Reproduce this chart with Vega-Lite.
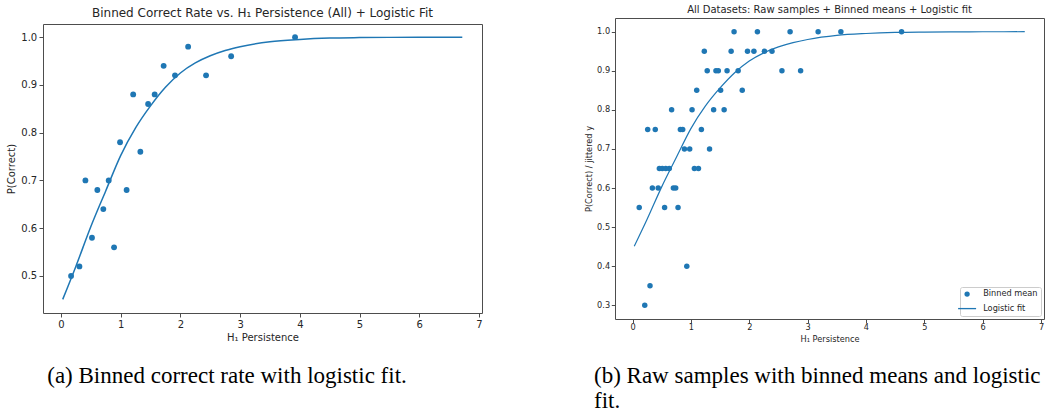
{
  "$schema": "https://vega.github.io/schema/vega-lite/v6.json",
  "background": "white",
  "padding": {"left": 6, "top": 4, "right": 0, "bottom": 0},
  "config": {
    "font": "DejaVu Sans",
    "view": {"stroke": "#4d4d4d", "strokeWidth": 1},
    "axis": {"grid": false, "domain": false, "minExtent": 0, "tickColor": "#4d4d4d", "labelColor": "#262626", "titleColor": "#262626", "titleFontWeight": "normal", "labelFont": "DejaVu Sans", "titleFont": "DejaVu Sans"},
    "title": {"font": "DejaVu Sans", "fontWeight": "normal", "color": "#262626"}
  },
  "datasets": {
    "binnedA": [
      {"persistence": 0.17, "p_correct": 0.50},
      {"persistence": 0.31, "p_correct": 0.52},
      {"persistence": 0.41, "p_correct": 0.70},
      {"persistence": 0.52, "p_correct": 0.58},
      {"persistence": 0.61, "p_correct": 0.68},
      {"persistence": 0.71, "p_correct": 0.64},
      {"persistence": 0.80, "p_correct": 0.70},
      {"persistence": 0.89, "p_correct": 0.56},
      {"persistence": 0.99, "p_correct": 0.78},
      {"persistence": 1.10, "p_correct": 0.68},
      {"persistence": 1.21, "p_correct": 0.88},
      {"persistence": 1.33, "p_correct": 0.76},
      {"persistence": 1.46, "p_correct": 0.86},
      {"persistence": 1.57, "p_correct": 0.88},
      {"persistence": 1.72, "p_correct": 0.94},
      {"persistence": 1.91, "p_correct": 0.92},
      {"persistence": 2.13, "p_correct": 0.98},
      {"persistence": 2.43, "p_correct": 0.92},
      {"persistence": 2.85, "p_correct": 0.96},
      {"persistence": 3.92, "p_correct": 1.00}
    ],
    "samplesB": [
      {"persistence": 1.74, "p_correct": 1.00, "series": "Binned mean"},
      {"persistence": 2.14, "p_correct": 1.00, "series": "Binned mean"},
      {"persistence": 2.70, "p_correct": 1.00, "series": "Binned mean"},
      {"persistence": 3.18, "p_correct": 1.00, "series": "Binned mean"},
      {"persistence": 3.57, "p_correct": 1.00, "series": "Binned mean"},
      {"persistence": 4.61, "p_correct": 1.00, "series": "Binned mean"},
      {"persistence": 1.23, "p_correct": 0.95, "series": "Binned mean"},
      {"persistence": 1.69, "p_correct": 0.95, "series": "Binned mean"},
      {"persistence": 1.97, "p_correct": 0.95, "series": "Binned mean"},
      {"persistence": 2.08, "p_correct": 0.95, "series": "Binned mean"},
      {"persistence": 2.26, "p_correct": 0.95, "series": "Binned mean"},
      {"persistence": 2.39, "p_correct": 0.95, "series": "Binned mean"},
      {"persistence": 1.28, "p_correct": 0.90, "series": "Binned mean"},
      {"persistence": 1.43, "p_correct": 0.90, "series": "Binned mean"},
      {"persistence": 1.47, "p_correct": 0.90, "series": "Binned mean"},
      {"persistence": 1.62, "p_correct": 0.90, "series": "Binned mean"},
      {"persistence": 1.81, "p_correct": 0.90, "series": "Binned mean"},
      {"persistence": 2.56, "p_correct": 0.90, "series": "Binned mean"},
      {"persistence": 2.88, "p_correct": 0.90, "series": "Binned mean"},
      {"persistence": 1.10, "p_correct": 0.85, "series": "Binned mean"},
      {"persistence": 1.51, "p_correct": 0.85, "series": "Binned mean"},
      {"persistence": 1.88, "p_correct": 0.85, "series": "Binned mean"},
      {"persistence": 0.67, "p_correct": 0.80, "series": "Binned mean"},
      {"persistence": 1.02, "p_correct": 0.80, "series": "Binned mean"},
      {"persistence": 1.39, "p_correct": 0.80, "series": "Binned mean"},
      {"persistence": 1.57, "p_correct": 0.80, "series": "Binned mean"},
      {"persistence": 0.26, "p_correct": 0.75, "series": "Binned mean"},
      {"persistence": 0.39, "p_correct": 0.75, "series": "Binned mean"},
      {"persistence": 0.82, "p_correct": 0.75, "series": "Binned mean"},
      {"persistence": 0.86, "p_correct": 0.75, "series": "Binned mean"},
      {"persistence": 1.18, "p_correct": 0.75, "series": "Binned mean"},
      {"persistence": 0.89, "p_correct": 0.70, "series": "Binned mean"},
      {"persistence": 0.98, "p_correct": 0.70, "series": "Binned mean"},
      {"persistence": 1.32, "p_correct": 0.70, "series": "Binned mean"},
      {"persistence": 0.46, "p_correct": 0.65, "series": "Binned mean"},
      {"persistence": 0.51, "p_correct": 0.65, "series": "Binned mean"},
      {"persistence": 0.57, "p_correct": 0.65, "series": "Binned mean"},
      {"persistence": 0.63, "p_correct": 0.65, "series": "Binned mean"},
      {"persistence": 1.06, "p_correct": 0.65, "series": "Binned mean"},
      {"persistence": 1.13, "p_correct": 0.65, "series": "Binned mean"},
      {"persistence": 0.34, "p_correct": 0.60, "series": "Binned mean"},
      {"persistence": 0.44, "p_correct": 0.60, "series": "Binned mean"},
      {"persistence": 0.70, "p_correct": 0.60, "series": "Binned mean"},
      {"persistence": 0.74, "p_correct": 0.60, "series": "Binned mean"},
      {"persistence": 0.115, "p_correct": 0.55, "series": "Binned mean"},
      {"persistence": 0.55, "p_correct": 0.55, "series": "Binned mean"},
      {"persistence": 0.78, "p_correct": 0.55, "series": "Binned mean"},
      {"persistence": 0.93, "p_correct": 0.40, "series": "Binned mean"},
      {"persistence": 0.30, "p_correct": 0.35, "series": "Binned mean"},
      {"persistence": 0.21, "p_correct": 0.30, "series": "Binned mean"}
    ],
    "fit": [
      {"persistence": 0.03, "p_fit": 0.451},
      {"persistence": 0.25, "p_fit": 0.52},
      {"persistence": 0.5, "p_fit": 0.603},
      {"persistence": 0.75, "p_fit": 0.678},
      {"persistence": 1.0, "p_fit": 0.752},
      {"persistence": 1.25, "p_fit": 0.81},
      {"persistence": 1.5, "p_fit": 0.856},
      {"persistence": 1.75, "p_fit": 0.895},
      {"persistence": 2.0, "p_fit": 0.925},
      {"persistence": 2.25, "p_fit": 0.946},
      {"persistence": 2.5, "p_fit": 0.961},
      {"persistence": 2.75, "p_fit": 0.972},
      {"persistence": 3.0, "p_fit": 0.98},
      {"persistence": 3.5, "p_fit": 0.9905},
      {"persistence": 4.0, "p_fit": 0.9953},
      {"persistence": 4.5, "p_fit": 0.998},
      {"persistence": 5.0, "p_fit": 0.999},
      {"persistence": 5.5, "p_fit": 0.9995},
      {"persistence": 6.0, "p_fit": 0.9998},
      {"persistence": 6.72, "p_fit": 0.9999}
    ]
  },
  "vconcat": [
    {
      "hconcat": [
        {
          "width": 439,
          "height": 289,
          "title": {"text": "Binned Correct Rate vs. H₁ Persistence (All) + Logistic Fit", "fontSize": 12, "offset": 4},
          "layer": [
            {
              "data": {"name": "binnedA"},
              "mark": {"type": "point", "filled": true, "size": 34, "opacity": 1, "color": "#1f77b4"},
              "encoding": {
                "x": {"field": "persistence", "type": "quantitative", "scale": {"domain": [-0.3, 7.05], "nice": false, "zero": false},
                      "axis": {"title": "H₁ Persistence", "values": [0, 1, 2, 3, 4, 5, 6, 7], "format": "d", "labelFontSize": 10, "titleFontSize": 10, "tickSize": 4, "labelPadding": 2.3, "titlePadding": 2.7}},
                "y": {"field": "p_correct", "type": "quantitative", "scale": {"domain": [0.4225, 1.0275], "nice": false, "zero": false},
                      "axis": {"title": "P(Correct)", "values": [0.5, 0.6, 0.7, 0.8, 0.9, 1.0], "format": ".1f", "labelFontSize": 10, "titleFontSize": 10, "tickSize": 4, "labelPadding": 2.3, "titlePadding": 4}}
              }
            },
            {
              "data": {"name": "fit"},
              "mark": {"type": "line", "color": "#1f77b4", "strokeWidth": 1.5, "interpolate": "monotone"},
              "encoding": {
                "x": {"field": "persistence", "type": "quantitative"},
                "y": {"field": "p_fit", "type": "quantitative"}
              }
            }
          ]
        },
        {
          "width": 429,
          "height": 301,
          "title": {"text": "All Datasets: Raw samples + Binned means + Logistic fit", "fontSize": 10, "offset": 3},
          "layer": [
            {
              "data": {"name": "samplesB"},
              "mark": {"type": "point", "filled": true, "size": 30, "opacity": 1, "color": "#1f77b4"},
              "encoding": {
                "x": {"field": "persistence", "type": "quantitative", "scale": {"domain": [-0.3, 7.05], "nice": false, "zero": false},
                      "axis": {"title": "H₁ Persistence", "values": [0, 1, 2, 3, 4, 5, 6, 7], "format": "d", "labelFontSize": 8.2, "titleFontSize": 8.2, "tickSize": 3.5, "labelPadding": 1.4, "titlePadding": 4}},
                "y": {"field": "p_correct", "type": "quantitative", "scale": {"domain": [0.265, 1.035], "nice": false, "zero": false},
                      "axis": {"title": "P(Correct) / jittered y", "values": [0.3, 0.4, 0.5, 0.6, 0.7, 0.8, 0.9, 1.0], "format": ".1f", "labelFontSize": 8.2, "titleFontSize": 8.2, "tickSize": 3.7, "labelPadding": 1.7, "titlePadding": 3}},
                "shape": {"field": "series", "type": "nominal",
                          "scale": {"domain": ["Binned mean", "Logistic fit"], "range": ["circle", "M-3.4,-0.25H3.4V0.25H-3.4Z"]},
                          "legend": {"title": null, "orient": "bottom-right", "offset": 3, "padding": 3, "labelFontSize": 8.2, "labelFont": "DejaVu Sans", "labelColor": "#262626", "symbolSize": 28, "symbolFillColor": "#1f77b4", "labelOffset": 12, "rowPadding": 3.5, "fillColor": "white", "strokeColor": "#cccccc", "cornerRadius": 2}}
              }
            },
            {
              "data": {"name": "fit"},
              "mark": {"type": "line", "color": "#1f77b4", "strokeWidth": 1.2, "interpolate": "monotone"},
              "encoding": {
                "x": {"field": "persistence", "type": "quantitative"},
                "y": {"field": "p_fit", "type": "quantitative"}
              }
            }
          ]
        }
      ],
      "resolve": {"scale": {"shape": "independent"}, "legend": {"shape": "independent"}},
      "bounds": "flush",
      "center": true,
      "spacing": 133
    },
    {
      "hconcat": [
        {
          "width": 368,
          "height": 1,
          "view": {"stroke": null},
          "data": {"values": [{}]},
          "mark": {"type": "text"},
          "encoding": {"text": {"value": ""}},
          "title": {"text": "(a) Binned correct rate with logistic fit.", "orient": "bottom", "font": "Liberation Serif", "fontSize": 23, "anchor": "middle", "color": "black", "offset": 0}
        },
        {
          "width": 457,
          "height": 1,
          "view": {"stroke": null},
          "data": {"values": [{}]},
          "mark": {"type": "text"},
          "encoding": {"text": {"value": ""}},
          "title": {"text": ["(b) Raw samples with binned means and logistic", "fit."], "orient": "bottom", "font": "Liberation Serif", "fontSize": 23, "lineHeight": 25, "anchor": "start", "color": "black", "offset": 0}
        }
      ],
      "bounds": "flush",
      "spacing": 183
    }
  ],
  "resolve": {"scale": {"shape": "independent"}, "legend": {"shape": "independent"}},
  "spacing": 10
}
